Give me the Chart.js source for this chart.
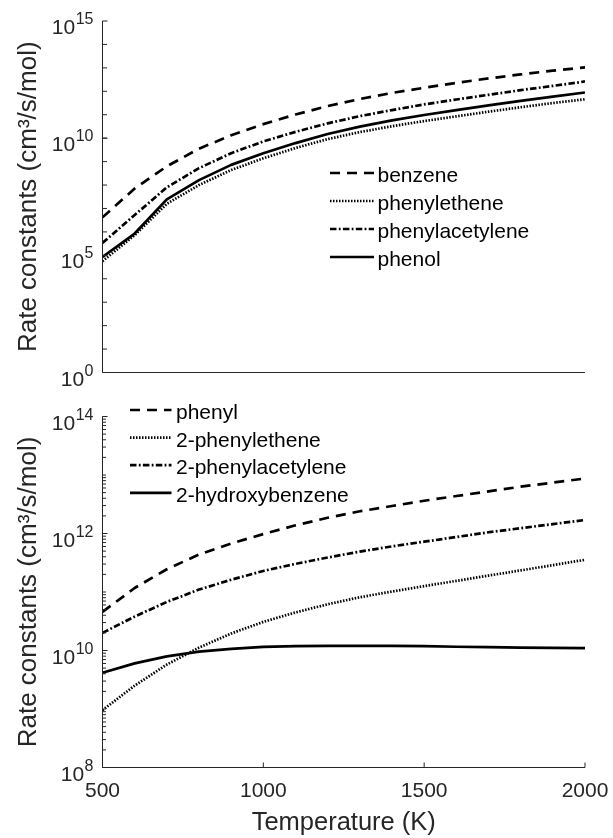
<!DOCTYPE html>
<html>
<head>
<meta charset="utf-8">
<script src="https://cdn.jsdelivr.net/npm/chart.js@4"></script>
<style>
html, body { margin: 0; padding: 0; background: #ffffff; }
#wrap { position: relative; width: 613px; height: 838px; background: #ffffff; }
#wrap canvas { position: absolute; left: 0; }
</style>
</head>
<body>
<div id="wrap">
  <canvas id="topChart" width="613" height="400" style="top:0px"></canvas>
  <canvas id="bottomChart" width="613" height="438" style="top:400px"></canvas>
</div>
<script>
// ---------------- data ----------------
const temperatures = [500, 600, 700, 800, 900, 1000, 1100, 1200, 1300, 1400, 1500, 1600, 1700, 1800, 1900, 2000];

// top panel
const topLabels = ['benzene', 'phenylethene', 'phenylacetylene', 'phenol'];
const benzene = [4.17e6, 7.08e7, 6.31e8, 3.55e9, 1.32e10, 3.98e10, 1.02e11, 2.34e11, 4.68e11, 8.51e11, 1.41e12, 2.29e12, 3.55e12, 5.25e12, 7.59e12, 1.05e13];
const phenylethene = [5.62e4, 7.24e5, 1.58e7, 1.00e8, 4.37e8, 1.38e9, 3.80e9, 9.12e9, 1.82e10, 3.24e10, 5.37e10, 8.51e10, 1.35e11, 2.09e11, 3.16e11, 4.57e11];
const phenylacetylene = [3.39e5, 5.25e6, 7.94e7, 5.25e8, 2.29e9, 7.24e9, 1.86e10, 4.27e10, 8.71e10, 1.58e11, 2.75e11, 4.47e11, 7.08e11, 1.12e12, 1.70e12, 2.63e12];
const phenol = [8.51e4, 8.51e5, 2.45e7, 1.62e8, 7.24e8, 2.29e9, 6.17e9, 1.51e10, 3.09e10, 5.75e10, 9.77e10, 1.58e11, 2.51e11, 3.89e11, 5.89e11, 8.91e11];

// bottom panel
const bottomLabels = ['phenyl', '2-phenylethene', '2-phenylacetylene', '2-hydroxybenzene'];
const phenyl = [4.57e10, 1.17e11, 2.45e11, 4.37e11, 6.76e11, 9.77e11, 1.38e12, 1.86e12, 2.40e12, 2.95e12, 3.63e12, 4.37e12, 5.25e12, 6.31e12, 7.41e12, 8.71e12];
const phenylethene2 = [9.55e8, 2.51e9, 5.75e9, 1.12e10, 1.95e10, 3.09e10, 4.47e10, 6.17e10, 8.13e10, 1.02e11, 1.26e11, 1.55e11, 1.91e11, 2.34e11, 2.88e11, 3.55e11];
const phenylacetylene2 = [2.00e10, 3.80e10, 6.76e10, 1.10e11, 1.62e11, 2.29e11, 3.02e11, 3.89e11, 4.90e11, 6.03e11, 7.24e11, 8.71e11, 1.05e12, 1.23e12, 1.45e12, 1.70e12];
const hydroxybenzene = [4.17e9, 6.03e9, 7.94e9, 9.55e9, 1.07e10, 1.15e10, 1.19e10, 1.20e10, 1.20e10, 1.20e10, 1.19e10, 1.16e10, 1.14e10, 1.12e10, 1.11e10, 1.10e10];

// ticks
const xTickLabels = [500, 1000, 1500, 2000];
const topYTickExponents = [0, 5, 10, 15];
const bottomYTickExponents = [8, 10, 12, 14];
const yTitle = 'Rate constants (cm\u00B3/s/mol)';
const xTitle = 'Temperature (K)';

// ---------------- styling ----------------
const FONT = '"Liberation Sans", Arial, Helvetica, sans-serif';
const TEXT = '#262626';
const AXIS = '#262626';
const LW = 2.7;
const DASH = [10, 7];
const DOT = [1.5, 1.5];
const DASHDOT = [6.5, 2.3, 1.8, 2.3];
const SOLID = [];

Chart.defaults.font.family = FONT;
Chart.defaults.color = TEXT;

function series(label, values, dash) {
  return {
    label: label,
    data: temperatures.map((t, i) => ({ x: t, y: values[i] })),
    borderColor: '#000000',
    backgroundColor: '#000000',
    borderWidth: LW,
    borderDash: dash,
    borderCapStyle: 'butt',
    borderJoinStyle: 'round',
    pointRadius: 0,
    pointHoverRadius: 0,
    tension: 0,
    fill: false
  };
}

function drawPow(ctx, exp, y, rightX) {
  const s = String(exp);
  ctx.font = '16px ' + FONT;
  const ew = ctx.measureText(s).width;
  ctx.textAlign = 'left';
  ctx.textBaseline = 'alphabetic';
  ctx.fillText(s, rightX - ew, y + 3);
  ctx.font = '21px ' + FONT;
  ctx.textAlign = 'right';
  ctx.fillText('10', rightX - ew - 0.5, y + 13);
}

const axesPlugin = {
  id: 'matlabAxes',
  afterDraw(chart, args, o) {
    const ctx = chart.ctx;
    const { left, right, top, bottom } = chart.chartArea;
    const xs = chart.scales.x, ys = chart.scales.y;
    ctx.save();
    ctx.strokeStyle = AXIS;
    ctx.fillStyle = TEXT;
    ctx.lineWidth = 1;
    ctx.beginPath();
    ctx.moveTo(left, top);
    ctx.lineTo(left, bottom);
    ctx.lineTo(right, bottom);
    ctx.stroke();
    ctx.beginPath();
    o.yMinor.forEach(v => {
      const y = ys.getPixelForValue(v);
      ctx.moveTo(left, y);
      ctx.lineTo(left + o.minorLen, y);
    });
    o.yMajorExp.forEach(e => {
      const y = ys.getPixelForValue(Math.pow(10, e));
      ctx.moveTo(left, y);
      ctx.lineTo(left + 5, y);
    });
    if (o.showX) {
      o.xTicks.forEach(v => {
        const x = xs.getPixelForValue(v);
        ctx.moveTo(x, bottom);
        ctx.lineTo(x, bottom - 5);
      });
    }
    ctx.stroke();
    o.yMajorExp.forEach(e => {
      const y = ys.getPixelForValue(Math.pow(10, e));
      drawPow(ctx, e, y, 93.5);
    });
    if (o.showX) {
      ctx.font = '21px ' + FONT;
      ctx.textAlign = 'center';
      ctx.textBaseline = 'alphabetic';
      o.xTicks.forEach(v => {
        const x = xs.getPixelForValue(v);
        ctx.fillText(String(v), x, bottom + 29.5);
      });
    }
    ctx.restore();
  }
};

const legendPlugin = {
  id: 'inlineLegend',
  afterDraw(chart, args, o) {
    const ctx = chart.ctx;
    ctx.save();
    chart.data.datasets.forEach((ds, i) => {
      const y = o.y0 + i * o.dy;
      ctx.strokeStyle = '#000000';
      ctx.lineWidth = LW;
      ctx.lineCap = 'butt';
      ctx.setLineDash(ds.borderDash || []);
      ctx.beginPath();
      ctx.moveTo(o.x0, y);
      ctx.lineTo(o.x1, y);
      ctx.stroke();
      ctx.setLineDash([]);
      ctx.fillStyle = '#000000';
      ctx.font = '21px ' + FONT;
      ctx.textAlign = 'left';
      ctx.textBaseline = 'alphabetic';
      ctx.fillText(ds.label, o.tx, y + o.base);
    });
    ctx.restore();
  }
};

function decadeTicks(e0, e1) {
  const out = [];
  for (let e = e0; e <= e1; e++) out.push(Math.pow(10, e));
  return out;
}
function fullLogTicks(e0, e1) {
  const out = [];
  for (let e = e0; e < e1; e++) {
    for (let m = 1; m <= 9; m++) out.push(m * Math.pow(10, e));
  }
  out.push(Math.pow(10, e1));
  return out;
}

// ---------------- top chart ----------------
new Chart(document.getElementById('topChart'), {
  type: 'line',
  data: {
    datasets: [
      series(topLabels[0], benzene, DASH),
      series(topLabels[1], phenylethene, DOT),
      series(topLabels[2], phenylacetylene, DASHDOT),
      series(topLabels[3], phenol, SOLID)
    ]
  },
  options: {
    responsive: false,
    animation: false,
    devicePixelRatio: 1,
    layout: { padding: { top: 21, right: 28, bottom: 27.5, left: 0 } },
    plugins: {
      legend: { display: false },
      tooltip: { enabled: false },
      matlabAxes: {
        yMinor: decadeTicks(1, 14),
        yMajorExp: topYTickExponents,
        minorLen: 4.5,
        showX: false,
        xTicks: xTickLabels
      },
      inlineLegend: { x0: 330, x1: 374, tx: 377.5, y0: 173, dy: 28, base: 8.5 }
    },
    scales: {
      x: { type: 'linear', min: 500, max: 2000, display: false },
      y: {
        type: 'logarithmic', min: 1, max: 1e15,
        ticks: { display: false },
        grid: { display: false },
        border: { display: false },
        title: { display: true, text: yTitle, color: TEXT, font: { size: 26, family: FONT }, padding: { top: 13, bottom: 0 } },
        afterFit(s) { s.width = 102.5; }
      }
    }
  },
  plugins: [axesPlugin, legendPlugin]
});

// ---------------- bottom chart ----------------
new Chart(document.getElementById('bottomChart'), {
  type: 'line',
  data: {
    datasets: [
      series(bottomLabels[0], phenyl, DASH),
      series(bottomLabels[1], phenylethene2, DOT),
      series(bottomLabels[2], phenylacetylene2, DASHDOT),
      series(bottomLabels[3], hydroxybenzene, SOLID)
    ]
  },
  options: {
    responsive: false,
    animation: false,
    devicePixelRatio: 1,
    layout: { padding: { top: 16.5, right: 28, bottom: 0, left: 0 } },
    plugins: {
      legend: { display: false },
      tooltip: { enabled: false },
      matlabAxes: {
        yMinor: fullLogTicks(8, 14),
        yMajorExp: bottomYTickExponents,
        minorLen: 3.5,
        showX: true,
        xTicks: xTickLabels
      },
      inlineLegend: { x0: 130, x1: 171.5, tx: 176, y0: 10, dy: 27.6, base: 9 }
    },
    scales: {
      x: {
        type: 'linear', min: 500, max: 2000,
        ticks: { display: false },
        grid: { display: false },
        border: { display: false },
        title: { display: true, text: xTitle, color: TEXT, font: { size: 25.5, family: FONT }, padding: { top: 0, bottom: 0 } },
        afterFit(s) { s.height = 70.5; }
      },
      y: {
        type: 'logarithmic', min: 1e8, max: 1e14,
        ticks: { display: false },
        grid: { display: false },
        border: { display: false },
        title: { display: true, text: yTitle, color: TEXT, font: { size: 26, family: FONT }, padding: { top: 13, bottom: 0 } },
        afterFit(s) { s.width = 102.5; }
      }
    }
  },
  plugins: [axesPlugin, legendPlugin]
});
</script>
</body>
</html>
